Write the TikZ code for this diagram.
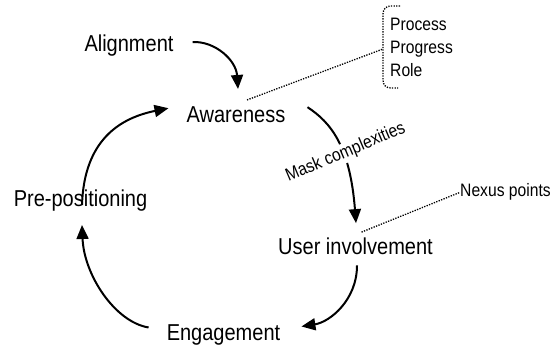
\documentclass[tikz,border=0pt]{standalone}
\usepackage{fontspec}
\newfontfamily\narrowsans[FakeStretch=0.87]{Liberation Sans}
\usetikzlibrary{arrows.meta,calc}
\tikzset{
  bigtext/.style={font=\narrowsans\fontsize{23}{27}\selectfont, inner sep=0pt, anchor=base},
  smalltext/.style={font=\narrowsans\fontsize{18}{22}\selectfont, inner sep=0pt, anchor=base west},
  flow/.style={line width=2pt, -{Triangle[width=12pt,length=14pt]}},
  dotline/.style={line width=1.3pt, dash pattern=on 1.3pt off 1.3pt}
}
\begin{document}
\begin{tikzpicture}[x=1pt,y=-1pt]
\useasboundingbox (0,0) rectangle (554,347);
% nodes
\node[bigtext] (al) at (129,52) {Alignment};
\node[bigtext] (aw) at (236,123) {Awareness};
\node[bigtext] (pre) at (80.5,207) {Pre-positioning};
\node[bigtext] (ui) at (355.5,255) {User involvement};
\node[bigtext] (en) at (223.5,340) {Engagement};
\node[smalltext] (p1) at (390,31) {Process};
\node[smalltext] (p2) at (390,54) {Progress};
\node[smalltext] (p3) at (390,77) {Role};
\node[smalltext] (nx) at (460,197) {Nexus points};
% bracket
\coordinate (br) at (383,49);
\draw[dotline] (400,6) -- (391,6) .. controls (386,6) and (383,9) .. (383,14) -- (383,80) .. controls (383,85) and (386,88) .. (391,88) -- (398,88);
% dotted connectors
\draw[dotline] ($(aw.north)+(11,-7)$) -- (br);
\draw[dotline] ($(ui.north)+(6,-6)$) -- (nx.west);
% cycle arrows
\draw[flow] ($(al.east)+(19,-4)$) .. controls (215,41) and (236,60) .. ($(aw.north)+(2,-18)$);
\draw[flow] ($(aw.east)+(22,-8)$) .. controls (330,122) and (350,145) .. ($(ui.north)+(0.5,-15)$);
\draw[flow] ($(ui.south)+(1.5,10)$) .. controls (357,300) and (330,322) .. ($(en.east)+(21,-8)$);
\draw[flow] ($(en.west)+(-18,-7)$) .. controls (115,322) and (84,275) .. ($(pre.south)+(1.5,13)$);
\draw[flow] ($(pre.north)+(1.5,15)$) .. controls (84,140) and (120,118) .. ($(aw.west)+(-18,-7)$);
% label over arrow
\node[font=\narrowsans\fontsize{18}{22}\selectfont, fill=white, inner sep=1.5pt, anchor=base, rotate=23] (mask) at (347.5,157) {Mask complexities};
\end{tikzpicture}
\end{document}
